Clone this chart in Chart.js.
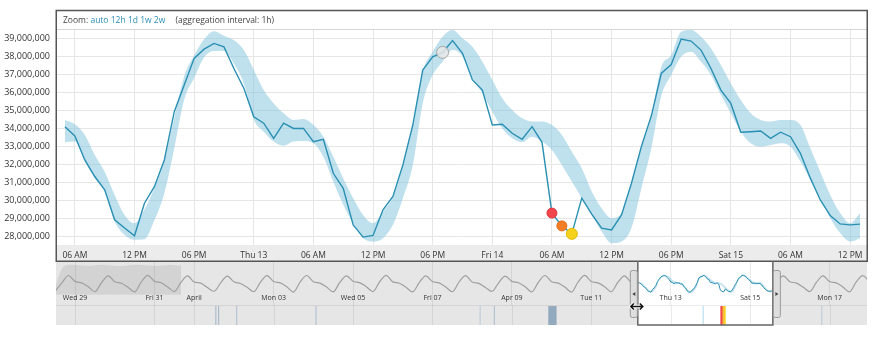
<!DOCTYPE html>
<html>
<head>
<meta charset="utf-8">
<script src="https://cdn.jsdelivr.net/npm/chart.js@4.4.1/dist/chart.umd.min.js"></script>
<style>
  html, body { margin: 0; padding: 0; background: #fff; }
  #stage { position: relative; width: 877px; height: 341px; overflow: hidden; background: #fff; }
  #stage canvas { position: absolute; left: 0; }
  #mainChart { top: 0; }
  #navChart { top: 261px; }
  #zoomBar {
    position: absolute; left: 57px; top: 11px; width: 803px; height: 18px;
    line-height: 18px; padding-left: 6px; white-space: nowrap;
    font-family: 'Open Sans', sans-serif; font-size: 8.5px; color: #444;
  }
  #zoomBar a { color: #2b8db5; text-decoration: none; }
  #zoomBar .agg { margin-left: 8px; }
</style>
</head>
<body>
<div id="stage">
  <canvas id="mainChart" width="877" height="262"></canvas>
  <div id="zoomBar">Zoom: <a>auto</a> <a>12h</a> <a>1d</a> <a>1w</a> <a>2w</a> <span class="agg">(aggregation interval: 1h)</span></div>
  <canvas id="navChart" width="877" height="65"></canvas>
</div>
<script>
// Hours are counted from Wed 12 Apr 00:00; values are in millions.
const hourStart = 5;               // first hourly sample: Wed 05:00
const viewMin = 4.1, viewMax = 85.7;

const rate = [
  34.10, 33.58, 32.25, 31.33, 30.59, 28.93, 28.47, 28.04, 29.85, 30.77,
  32.25, 34.93, 36.41, 37.89, 38.40, 38.72, 38.53, 37.33, 36.23, 34.65,
  34.29, 33.45, 34.29, 34.00, 34.00, 33.27, 33.40, 31.51, 30.68, 28.65,
  27.97, 28.06, 29.48, 30.22, 31.97, 34.19, 37.24, 37.98, 38.22, 38.88,
  38.17, 36.69, 36.13, 34.19, 34.23, 33.73, 33.40, 34.10, 33.23, 29.30,
  28.59, 28.15, 30.13, 29.24, 28.47, 28.37, 29.20, 30.96, 33.00, 34.70,
  37.05, 37.55, 38.96, 38.85, 38.35, 37.33, 36.13, 35.39, 33.79, 33.82,
  33.86, 33.45, 33.79, 33.54, 32.62, 31.24, 30.03, 29.16, 28.70, 28.65,
  28.69
];

const expectedHigh = [
  34.47, 34.23, 33.64, 32.53, 31.60, 30.31, 29.20, 28.74, 29.50, 30.70,
  32.20, 34.60, 36.90, 38.05, 38.95, 39.40, 39.15, 38.90, 38.35, 37.24,
  36.13, 35.39, 34.84, 34.47, 34.52, 34.19, 33.54, 32.43, 31.24, 30.13,
  29.20, 28.74, 29.40, 30.20, 31.90, 34.10, 37.15, 38.26, 39.09, 39.46,
  39.00, 38.53, 37.70, 36.69, 35.67, 35.02, 34.56, 34.38, 34.38, 34.19,
  33.64, 32.71, 31.79, 30.50, 29.57, 29.02, 29.30, 30.90, 32.90, 34.65,
  37.40, 38.07, 39.37, 39.46, 39.09, 38.44, 37.52, 36.50, 35.58, 34.84,
  34.47, 34.38, 34.47, 34.47, 34.19, 32.90, 31.60, 30.31, 29.30, 28.74,
  29.30
];

const expectedLow = [
  33.23, 33.27, 32.16, 31.24, 30.49, 28.83, 28.09, 27.82, 27.85, 28.90,
  30.40, 32.90, 35.60, 36.80, 37.95, 38.30, 38.30, 37.60, 36.50, 34.50,
  33.82, 33.27, 33.04, 33.27, 33.30, 33.18, 32.43, 31.05, 29.76, 28.74,
  27.91, 27.72, 27.91, 28.65, 30.13, 31.97, 35.40, 36.96, 37.70, 38.35,
  38.00, 36.78, 35.94, 34.93, 34.00, 33.45, 33.23, 33.54, 33.27, 32.80,
  31.97, 31.05, 30.13, 29.20, 28.28, 27.63, 27.72, 28.47, 30.68, 32.90,
  35.80, 36.96, 37.98, 38.26, 37.70, 36.96, 35.85, 34.84, 33.82, 33.18,
  32.99, 33.08, 33.18, 32.99, 32.16, 31.14, 30.13, 29.02, 28.19, 27.72,
  27.91
];

const alertHours  = [43, 54, 55, 56];
const alertFill   = ['rgba(232,232,232,0.85)', '#f2444c', '#f27d24', '#f7d21c'];
const alertStroke = ['#a8a8a8', '#e03a40', '#e0701c', '#e2b800'];
const alertRadius = [6, 5, 5, 5.5];

const xTickHours  = [6, 12, 18, 24, 30, 36, 42, 48, 54, 60, 66, 72, 78, 84];
const xTickLabels = ['06 AM', '12 PM', '06 PM', 'Thu 13', '06 AM', '12 PM', '06 PM',
                     'Fri 14', '06 AM', '12 PM', '06 PM', 'Sat 15', '06 AM', '12 PM'];
const yTicks = [28, 29, 30, 31, 32, 33, 34, 35, 36, 37, 38, 39];

// Navigator: three weeks of history at 4-hour steps, then the days after the view
const histStart = -348;            // Tue 28 Mar 12:00
const histRate = [
  28.6, 34.0, 38.8,
  35.0, 34.0, 31.5, 28.3, 34.2, 38.6,
  34.8, 33.8, 31.2, 28.2, 34.6, 38.9,
  35.0, 34.1, 31.4, 28.4, 34.3, 38.5,
  34.6, 33.9, 31.0, 28.6, 34.0, 38.4,
  34.7, 33.6, 31.2, 28.3, 34.4, 38.7,
  34.9, 34.0, 31.5, 28.1, 34.5, 38.8,
  34.8, 33.9, 31.3, 28.2, 34.3, 38.6,
  35.1, 34.2, 31.6, 28.4, 34.6, 38.9,
  34.7, 33.8, 31.2, 28.2, 34.2, 38.5,
  34.9, 34.0, 31.4, 28.3, 34.5, 38.7,
  34.6, 33.7, 31.1, 28.5, 34.1, 38.4,
  35.0, 34.1, 31.5, 28.2, 34.4, 38.8,
  34.8, 33.9, 31.3, 28.1, 34.6, 38.9,
  34.9, 34.0, 31.6, 28.3, 34.3, 38.6,
  34.7, 34.3
];
const futureStart = 88;            // Sat 15 Apr 16:00
const futureRate = [34.1, 38.5, 34.8, 33.9, 31.3, 28.4, 34.3, 38.6,
                    34.9, 34.0, 31.4, 28.2, 34.5, 38.7, 35.0];

// Wide range shown while the model was still learning
const trainStart = -348;
const trainHigh = [31.5, 43.0, 45.8, 45.6, 45.2, 45.0, 45.4, 45.8, 45.5, 45.1,
                   45.0, 45.3, 45.7, 45.6, 45.2, 45.0, 45.3, 45.6, 45.4, 45.2];
const trainLow  = [26.5, 26.4, 26.5, 26.4, 26.5, 26.4, 26.5, 26.4, 26.5, 26.4,
                   26.5, 26.4, 26.5, 26.4, 26.5, 26.4, 26.5, 26.4, 26.5, 26.4];

const navTickHours  = [-336, -288, -264, -216, -168, -120, -72, -24, 24, 72, 120];
const navTickLabels = ['Wed 29', 'Fri 31', 'April', 'Mon 03', 'Wed 05', 'Fri 07',
                       'Apr 09', 'Tue 11', 'Thu 13', 'Sat 15', 'Mon 17'];

// Alert timeline strip: start hour, end hour, colour
const stripFrom  = [-251.2, -249.5, -238.6, -190.7, -91.5, -82.9, -50.0, 43.2, 54.0, 55.0, 56.0, 115.0];
const stripTo    = [-250.6, -248.9, -238.0, -190.1, -90.9, -82.3, -45.0, 44.0, 55.0, 56.0, 57.2, 115.6];
const stripColor = ['#9fb4c7', '#9fb4c7', '#aabdd0', '#aabdd0', '#b8c9d8', '#aabdd0',
                    '#93a9be', '#c3e2ef', '#f2444c', '#f5862a', '#f7d21c', '#b8c9d8'];

Chart.defaults.font.family = "'Open Sans', sans-serif";
Chart.defaults.color = '#333';

const hourly = arr => arr.map((v, i) => ({ x: hourStart + i, y: v }));
const stepped = (start, step, arr) => arr.map((v, i) => ({ x: start + step * i, y: v }));

const mainFrame = {
  id: 'mainFrame',
  beforeDraw(c) {
    const { ctx, chartArea: a } = c;
    ctx.save();
    ctx.fillStyle = '#fff';
    ctx.fillRect(a.left, 10, a.right - a.left, a.bottom - 10);
    ctx.fillStyle = '#ececec';
    ctx.fillRect(a.left, a.bottom, a.right - a.left, c.height - a.bottom);
    ctx.restore();
  },
  afterDraw(c) {
    const { ctx, chartArea: a } = c;
    ctx.save();
    ctx.strokeStyle = '#d6d6d6';
    ctx.lineWidth = 1;
    ctx.beginPath();
    ctx.moveTo(a.left, a.top + 0.5);
    ctx.lineTo(a.right, a.top + 0.5);
    ctx.stroke();
    ctx.strokeStyle = '#555';
    ctx.lineWidth = 1.5;
    ctx.strokeRect(a.left + 0.25, 10.5, a.right - a.left, c.height - 11.25);
    ctx.restore();
  }
};

new Chart(document.getElementById('mainChart'), {
  type: 'line',
  data: {
    datasets: [
      {
        label: 'alerts',
        data: alertHours.map(h => ({ x: h, y: rate[h - hourStart] })),
        showLine: false,
        pointRadius: alertRadius,
        pointBackgroundColor: alertFill,
        pointBorderColor: alertStroke,
        pointBorderWidth: 1,
        order: 0
      },
      {
        label: 'rate',
        data: hourly(rate),
        borderColor: '#2a90b3',
        borderWidth: 1.4,
        pointRadius: 0,
        tension: 0,
        fill: false,
        order: 1
      },
      {
        label: 'expected high',
        data: hourly(expectedHigh),
        borderColor: 'transparent',
        borderWidth: 0,
        pointRadius: 0,
        cubicInterpolationMode: 'monotone',
        backgroundColor: 'rgba(128,194,220,0.5)',
        fill: '+1',
        order: 2
      },
      {
        label: 'expected low',
        data: hourly(expectedLow),
        borderColor: 'transparent',
        borderWidth: 0,
        pointRadius: 0,
        cubicInterpolationMode: 'monotone',
        fill: false,
        order: 3
      }
    ]
  },
  options: {
    responsive: false,
    animation: false,
    events: [],
    layout: { padding: { top: 29, right: 10, left: 0, bottom: 0 } },
    plugins: { legend: { display: false }, tooltip: { enabled: false } },
    scales: {
      x: {
        type: 'linear',
        min: viewMin,
        max: viewMax,
        afterBuildTicks: s => { s.ticks = xTickHours.map(v => ({ value: v })); },
        afterFit: s => { s.height = 17; },
        ticks: {
          callback: v => xTickLabels[xTickHours.indexOf(v)],
          font: { size: 8.5 },
          color: '#333',
          padding: 5,
          maxRotation: 0,
          autoSkip: false
        },
        grid: { color: '#e6e6e6', drawTicks: false },
        border: { display: false }
      },
      y: {
        min: 27.53,
        max: 39.52,
        afterBuildTicks: s => { s.ticks = yTicks.map(v => ({ value: v })); },
        afterFit: s => { s.width = 56; },
        ticks: {
          callback: v => Math.round(v * 1e6).toLocaleString('en-US'),
          font: { size: 9 },
          color: '#333',
          padding: 6
        },
        grid: { color: '#e6e6e6', drawTicks: false },
        border: { display: false }
      }
    }
  },
  plugins: [mainFrame]
});

const navDecor = {
  id: 'navDecor',
  beforeDraw(c) {
    const { ctx, chartArea: a, scales: { x } } = c;
    const top = a.top, bottom = c.height - 1, stripTop = x.bottom;
    const wl = x.getPixelForValue(viewMin), wr = x.getPixelForValue(viewMax);
    ctx.save();
    ctx.fillStyle = '#e6e6e6';
    ctx.fillRect(a.left, top, a.right - a.left, bottom - top);
    ctx.fillStyle = '#fff';
    ctx.fillRect(wl, top, wr - wl, bottom - top);
    // separator between the mini chart and the alert strip
    ctx.strokeStyle = 'rgba(0,0,0,0.08)';
    ctx.lineWidth = 1;
    ctx.beginPath();
    ctx.moveTo(a.left, stripTop + 0.5);
    ctx.lineTo(a.right, stripTop + 0.5);
    ctx.stroke();
    // day lines through the strip
    x.ticks.forEach(t => {
      const px = Math.round(x.getPixelForValue(t.value)) + 0.5;
      ctx.beginPath();
      ctx.moveTo(px, stripTop);
      ctx.lineTo(px, bottom);
      ctx.stroke();
    });
    // alert marks
    stripFrom.forEach((h, i) => {
      const x0 = x.getPixelForValue(h), x1 = x.getPixelForValue(stripTo[i]);
      ctx.fillStyle = stripColor[i];
      ctx.fillRect(x0, stripTop + 1, Math.max(1, x1 - x0), bottom - stripTop - 1);
    });
    ctx.restore();
  },
  afterDraw(c) {
    const { ctx, scales: { x } } = c;
    const bottom = c.height - 1;
    const wl = x.getPixelForValue(viewMin), wr = x.getPixelForValue(viewMax);
    ctx.save();
    // selected range outline
    ctx.strokeStyle = '#666';
    ctx.lineWidth = 1.5;
    ctx.beginPath();
    ctx.moveTo(wl, 0);
    ctx.lineTo(wl, bottom);
    ctx.lineTo(wr, bottom);
    ctx.lineTo(wr, 0);
    ctx.stroke();
    // drag handles
    const handle = (hx, dir) => {
      ctx.fillStyle = '#dedede';
      ctx.strokeStyle = '#9a9a9a';
      ctx.lineWidth = 1;
      ctx.beginPath();
      ctx.roundRect(hx + 0.5, 9.5, 7, 47, 2);
      ctx.fill();
      ctx.stroke();
      ctx.fillStyle = '#444';
      ctx.beginPath();
      const cx = hx + 4, cy = 33;
      ctx.moveTo(cx - 1.5 * dir, cy - 2);
      ctx.lineTo(cx + 1.5 * dir, cy);
      ctx.lineTo(cx - 1.5 * dir, cy + 2);
      ctx.closePath();
      ctx.fill();
    };
    handle(wl - 8, -1);
    handle(wr, 1);
    // resize cursor resting on the left handle
    const cy = 45.5, cx0 = wl - 7, cx1 = wl + 5;
    const arrow = (w, col) => {
      ctx.strokeStyle = col;
      ctx.lineWidth = w;
      ctx.beginPath();
      ctx.moveTo(cx0, cy); ctx.lineTo(cx1, cy);
      ctx.moveTo(cx0 + 3, cy - 3); ctx.lineTo(cx0, cy); ctx.lineTo(cx0 + 3, cy + 3);
      ctx.moveTo(cx1 - 3, cy - 3); ctx.lineTo(cx1, cy); ctx.lineTo(cx1 - 3, cy + 3);
      ctx.stroke();
    };
    arrow(3.5, '#fff');
    arrow(1.5, '#111');
    ctx.restore();
  }
};

new Chart(document.getElementById('navChart'), {
  type: 'line',
  data: {
    datasets: [
      {
        label: 'rate (view)',
        data: hourly(rate),
        borderColor: '#2a90b3',
        borderWidth: 1,
        pointRadius: 0,
        fill: false,
        order: 0
      },
      {
        label: 'rate (before)',
        data: [...stepped(histStart, 4, histRate), { x: hourStart, y: rate[0] }],
        borderColor: '#a0a0a0',
        borderWidth: 1.2,
        pointRadius: 0,
        cubicInterpolationMode: 'monotone',
        fill: false,
        order: 1
      },
      {
        label: 'rate (after)',
        data: [{ x: hourStart + rate.length - 1, y: rate[rate.length - 1] }, ...stepped(futureStart, 4, futureRate)],
        borderColor: '#a0a0a0',
        borderWidth: 1.2,
        pointRadius: 0,
        cubicInterpolationMode: 'monotone',
        fill: false,
        order: 1
      },
      {
        label: 'expected high',
        data: hourly(expectedHigh),
        borderColor: 'transparent',
        borderWidth: 0,
        pointRadius: 0,
        cubicInterpolationMode: 'monotone',
        backgroundColor: 'rgba(128,194,220,0.45)',
        fill: '+1',
        order: 2
      },
      {
        label: 'expected low',
        data: hourly(expectedLow),
        borderColor: 'transparent',
        borderWidth: 0,
        pointRadius: 0,
        cubicInterpolationMode: 'monotone',
        fill: false,
        order: 3
      },
      {
        label: 'training high',
        data: stepped(trainStart, 4, trainHigh),
        borderColor: 'transparent',
        borderWidth: 0,
        pointRadius: 0,
        cubicInterpolationMode: 'monotone',
        backgroundColor: 'rgba(110,110,110,0.16)',
        fill: '+1',
        order: 4
      },
      {
        label: 'training low',
        data: stepped(trainStart, 4, trainLow),
        borderColor: 'transparent',
        borderWidth: 0,
        pointRadius: 0,
        fill: false,
        order: 5
      }
    ]
  },
  options: {
    responsive: false,
    animation: false,
    events: [],
    layout: { padding: { top: 1, right: 10, left: 56, bottom: 21 } },
    plugins: { legend: { display: false }, tooltip: { enabled: false } },
    scales: {
      x: {
        type: 'linear',
        min: -347.5,
        max: 142.6,
        afterBuildTicks: s => { s.ticks = navTickHours.map(v => ({ value: v })); },
        afterFit: s => { s.height = 10; },
        ticks: {
          callback: v => navTickLabels[navTickHours.indexOf(v)],
          font: { size: 7 },
          color: '#333',
          padding: -11.5,
          maxRotation: 0,
          autoSkip: false
        },
        grid: { color: 'rgba(0,0,0,0.08)', tickLength: 10, drawTicks: true },
        border: { display: false }
      },
      y: { display: false, min: 26.19, max: 47.54 }
    }
  },
  plugins: [navDecor]
});
</script>
</body>
</html>
